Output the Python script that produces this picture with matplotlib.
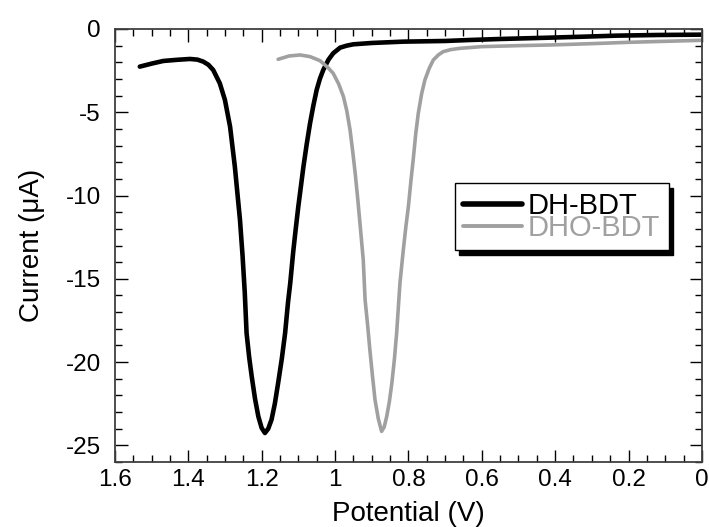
import matplotlib
matplotlib.use("Agg")
import matplotlib.pyplot as plt
from matplotlib.ticker import MultipleLocator, FuncFormatter

plt.rcParams['font.family'] = ['Liberation Sans', 'DejaVu Sans']

# DH-BDT (black)
dh_v = [1.532, 1.50, 1.468, 1.43, 1.395, 1.375, 1.359, 1.345, 1.332, 1.314, 1.300,
        1.286, 1.273, 1.259, 1.252, 1.246, 1.241, 1.234, 1.227, 1.218, 1.209, 1.200,
        1.191, 1.182, 1.173, 1.164, 1.155, 1.145, 1.136, 1.128, 1.122, 1.114, 1.107,
        1.100, 1.086, 1.077, 1.068, 1.059, 1.050, 1.041, 1.032, 1.018, 1.005, 0.986,
        0.968, 0.950, 0.90, 0.814, 0.70, 0.632, 0.55, 0.414, 0.32, 0.232, 0.12, 0.0]
dh_i = [-2.26, -2.08, -1.92, -1.85, -1.80, -1.84, -1.96, -2.15, -2.46, -3.26, -4.26,
        -5.86, -8.26, -11.46, -13.6, -15.8, -18.26, -19.7, -20.86, -22.2, -23.26, -23.95,
        -24.26, -24.0, -23.46, -22.5, -21.26, -19.8, -18.26, -16.4, -15.26, -13.4, -12.0,
        -10.66, -8.26, -6.9, -5.66, -4.6, -3.66, -2.98, -2.46, -1.85, -1.46, -1.12,
        -1.0, -0.92, -0.84, -0.76, -0.72, -0.66, -0.6, -0.52, -0.46, -0.4, -0.36, -0.34]

# DHO-BDT (grey)
dho_v = [1.155, 1.125, 1.095, 1.068, 1.041, 1.020, 1.005, 0.990, 0.977, 0.968, 0.959,
         0.952, 0.945, 0.938, 0.932, 0.923, 0.918, 0.911, 0.905, 0.898, 0.891, 0.882,
         0.873, 0.866, 0.859, 0.852, 0.845, 0.838, 0.832, 0.823, 0.814, 0.807, 0.800,
         0.793, 0.786, 0.780, 0.773, 0.764, 0.755, 0.743, 0.732, 0.718, 0.705, 0.685,
         0.659, 0.60, 0.50, 0.414, 0.30, 0.20, 0.10, 0.0]
dho_i = [-1.82, -1.62, -1.56, -1.66, -1.90, -2.30, -2.66, -3.30, -4.06, -4.90, -6.06,
         -7.30, -8.66, -10.2, -11.66, -13.86, -16.26, -17.8, -19.26, -20.8, -22.26, -23.4,
         -24.16, -23.9, -23.26, -22.4, -21.26, -19.8, -18.26, -15.26, -13.3, -11.9, -10.66,
         -9.1, -7.66, -6.3, -5.06, -3.9, -3.06, -2.35, -1.86, -1.55, -1.36, -1.24,
         -1.16, -1.06, -1.0, -0.96, -0.88, -0.8, -0.74, -0.68]

labels = ['DH-BDT', 'DHO-BDT']

fig = plt.figure(figsize=(7.09, 5.27), dpi=100)
ax = fig.add_axes([0.162, 0.1233, 0.828, 0.8217])

ax.plot(dh_v, dh_i, color='black', lw=3.3, label=labels[0],
        solid_capstyle='round', solid_joinstyle='round')
ax.plot(dho_v, dho_i, color='#a0a0a0', lw=2.6, label=labels[1],
        solid_capstyle='round', solid_joinstyle='round')

ax.set_xlim(1.6, 0)
ax.set_ylim(-26, 0)
ax.xaxis.set_major_locator(MultipleLocator(0.2))
ax.xaxis.set_minor_locator(MultipleLocator(0.05))
ax.yaxis.set_major_locator(MultipleLocator(5))
ax.yaxis.set_minor_locator(MultipleLocator(1))

def fmt(v, p):
    return '%g' % round(v, 3)
ax.xaxis.set_major_formatter(FuncFormatter(fmt))
ax.yaxis.set_major_formatter(FuncFormatter(fmt))

ax.tick_params(which='both', direction='in', top=True, right=True, color='black')
ax.tick_params(which='major', length=9, width=1.0, labelsize=17.5)
ax.tick_params(which='minor', length=5, width=1.0)
ax.tick_params(axis='x', which='major', pad=5)
ax.tick_params(axis='y', which='major', pad=10)
for s in ax.spines.values():
    s.set_color('#404040')
    s.set_linewidth(1.3)

ax.set_xlabel('Potential (V)', fontsize=20, labelpad=7)
ax.set_ylabel('Current (μA)', fontsize=20, labelpad=15)

leg = ax.legend(loc='center', bbox_to_anchor=(0.761, 0.566), fontsize=21,
                fancybox=False, shadow={'ox': 3.5, 'oy': -3.5, 'color': 'black', 'alpha': 1},
                edgecolor='black', framealpha=1, handlelength=2.0, handletextpad=0.2,
                labelspacing=-0.22, borderpad=0.3, borderaxespad=0)
leg.get_frame().set_linewidth(1.0)
leg.get_lines()[0].set_linewidth(4.0)
leg.get_lines()[1].set_linewidth(2.8)
for t, c in zip(leg.get_texts(), ['black', '#a0a0a0']):
    t.set_color(c)

fig.savefig('out.png', dpi=100)
